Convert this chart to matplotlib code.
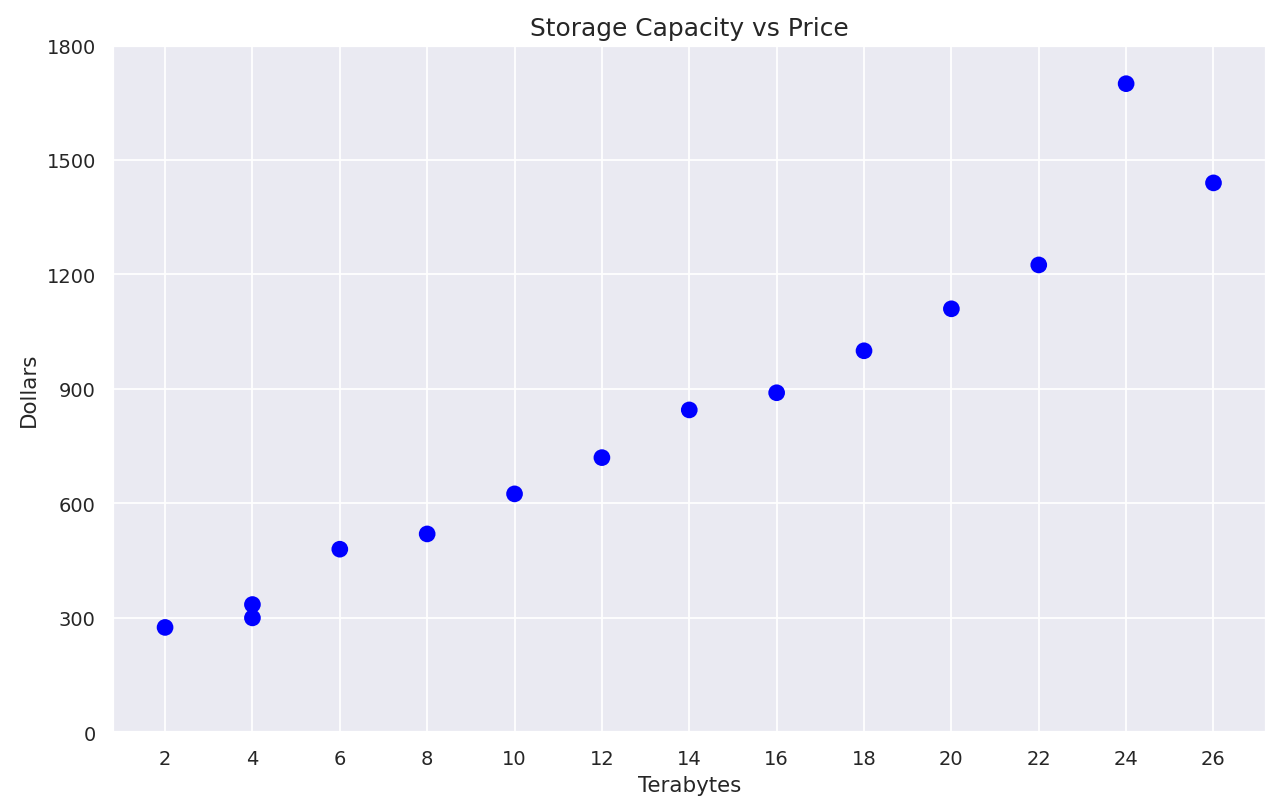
import matplotlib
matplotlib.use("Agg")
import matplotlib.pyplot as plt
import seaborn as sns

terabytes = [2, 4, 4, 6, 8, 10, 12, 14, 16, 18, 20, 22, 24, 26]
dollars = [275, 335, 300, 480, 520, 625, 720, 845, 890, 1000, 1110, 1225, 1700, 1440]

sns.set_theme(style="darkgrid", context="notebook")
plt.rcParams['font.family'] = ['DejaVu Sans']

fig, ax = plt.subplots(figsize=(10, 6.35), dpi=128)
fig.subplots_adjust(left=0.088, right=0.989, top=0.943, bottom=0.098)

ax.scatter(terabytes, dollars, s=88, color='blue', edgecolors='none', zorder=3)
ax.set_xticks(range(2, 27, 2))
ax.set_yticks(range(0, 1801, 300))
ax.set_ylim(0, 1800)
ax.set_title("Storage Capacity vs Price", fontsize=14)
ax.set_xlabel("Terabytes")
ax.set_ylabel("Dollars")

fig.savefig("out.png", dpi=128)
